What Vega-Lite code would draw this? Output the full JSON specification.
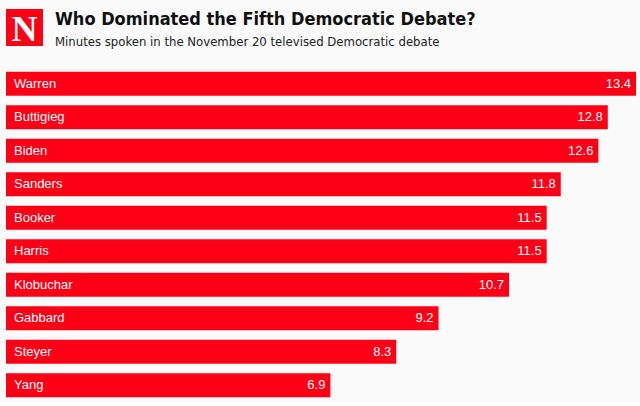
{
  "$schema": "https://vega.github.io/schema/vega-lite/v6.json",
  "background": "#fafafa",
  "padding": {"left": 6, "top": 9, "right": 4, "bottom": 0},
  "config": {"view": {"stroke": null}},
  "spacing": 18,
  "vconcat": [
    {
      "spacing": 12,
      "hconcat": [
        {
          "width": 37,
          "height": 37,
          "view": {"fill": "#fe0016", "stroke": null},
          "data": {"values": [{"logo": "N"}]},
          "mark": {"type": "text", "font": "Liberation Serif", "fontWeight": "bold", "fontSize": 36, "color": "white", "baseline": "alphabetic", "dy": 13},
          "encoding": {"text": {"field": "logo"}}
        },
        {
          "width": 560,
          "height": 37,
          "data": {"values": [{"t": ""}]},
          "mark": {"type": "text"},
          "encoding": {"text": {"field": "t"}},
          "title": {
            "text": "Who Dominated the Fifth Democratic Debate?",
            "subtitle": "Minutes spoken in the November 20 televised Democratic debate",
            "anchor": "start",
            "frame": "group",
            "offset": -40,
            "font": "DejaVu Sans Condensed, Roboto Condensed, Roboto",
            "fontSize": 18,
            "fontWeight": "bold",
            "color": "#111111",
            "subtitleFont": "DejaVu Sans Condensed, Roboto Condensed, Roboto",
            "subtitleFontSize": 13,
            "subtitleColor": "#222222",
            "subtitlePadding": 7
          }
        }
      ]
    },
    {
      "width": 630,
      "height": 335,
      "data": {
        "values": [
          {"name": "Warren", "minutes": 13.4},
          {"name": "Buttigieg", "minutes": 12.8},
          {"name": "Biden", "minutes": 12.6},
          {"name": "Sanders", "minutes": 11.8},
          {"name": "Booker", "minutes": 11.5},
          {"name": "Harris", "minutes": 11.5},
          {"name": "Klobuchar", "minutes": 10.7},
          {"name": "Gabbard", "minutes": 9.2},
          {"name": "Steyer", "minutes": 8.3},
          {"name": "Yang", "minutes": 6.9}
        ]
      },
      "encoding": {
        "y": {"field": "name", "type": "nominal", "sort": null, "axis": null,
              "scale": {"paddingInner": 0.284, "paddingOuter": 0.142}}
      },
      "layer": [
        {
          "mark": {"type": "bar", "color": "#fe0016"},
          "encoding": {
            "x": {"field": "minutes", "type": "quantitative", "axis": null,
                  "scale": {"domain": [0, 13.4], "nice": false, "zero": true}}
          }
        },
        {
          "mark": {"type": "text", "align": "left", "baseline": "middle", "dx": 8, "color": "white", "font": "Liberation Sans", "fontSize": 13},
          "encoding": {
            "x": {"datum": 0, "type": "quantitative"},
            "text": {"field": "name"}
          }
        },
        {
          "mark": {"type": "text", "align": "right", "baseline": "middle", "dx": -5, "color": "white", "font": "Liberation Sans", "fontSize": 13},
          "encoding": {
            "x": {"field": "minutes", "type": "quantitative"},
            "text": {"field": "minutes", "format": ".1f"}
          }
        }
      ]
    }
  ]
}
